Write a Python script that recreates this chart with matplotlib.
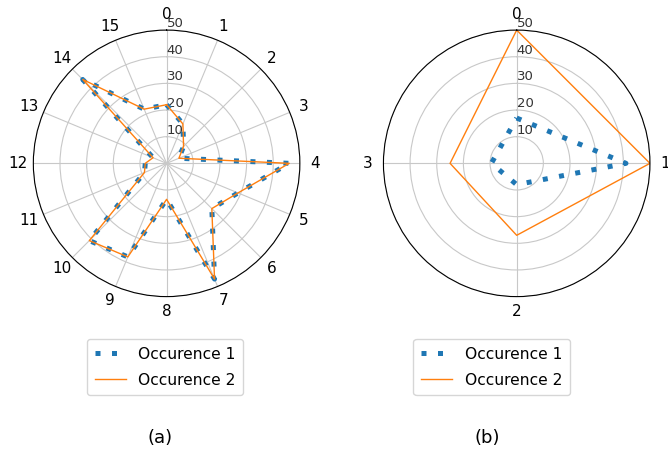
"""Two radar charts of occurrence counts: (a) 16 directions, (b) 4 directions."""

import matplotlib.pyplot as plt
import numpy as np

OUT = "out.png"

# (a) sixteen directions, clockwise from north
LABELS_A = [str(i) for i in range(16)]
OCC1_A = [22, 16, 9, 5, 46, 29, 24, 47, 13.5, 38, 41, 9, 8, 5.5, 44.5, 22]
OCC2_A = [22, 16, 9, 5, 46, 29, 24, 47, 13.5, 38, 41, 9, 8, 5.5, 44.5, 22]

# (b) four directions
LABELS_B = ["0", "1", "2", "3"]
OCC1_B = [17, 41, 8, 9.5]
OCC2_B = [50, 50, 27, 25]

R_TICKS = [10, 20, 30, 40, 50]
SERIES = ["Occurence 1", "Occurence 2"]
TAGS = ["(a)", "(b)"]


def radar(ax, labels, occ1, occ2):
    n = len(labels)
    theta = np.linspace(0, 2 * np.pi, n, endpoint=False)
    # close the loop by repeating the first point
    th = np.append(theta, theta[0])
    ax.plot(th, occ1 + occ1[:1], color="C0", linewidth=3.6,
            linestyle=(0, (1, 2.3)), label=SERIES[0])
    ax.plot(th, occ2 + occ2[:1], color="C1", linewidth=1.0, label=SERIES[1])

    ax.set_theta_zero_location("N")
    ax.set_theta_direction(-1)
    ax.set_xticks(theta)
    ax.set_xticklabels(labels, fontsize=11)
    ax.set_ylim(0, 50)
    ax.set_yticks(R_TICKS)
    ax.set_yticklabels([str(t) for t in R_TICKS], fontsize=9.5, color="#333333")
    ax.set_rlabel_position(0)
    ax.grid(True, color="#c8c8c8", linewidth=0.8)
    ax.tick_params(axis="x", pad=0.5)


def main() -> None:
    fig = plt.figure(figsize=(6.68, 4.55), dpi=100)
    ax_a = fig.add_axes([0.0499, 0.348, 0.399, 0.586], projection="polar")
    ax_b = fig.add_axes([0.574, 0.348, 0.399, 0.586], projection="polar")

    radar(ax_a, LABELS_A, OCC1_A, OCC2_A)
    radar(ax_b, LABELS_B, OCC1_B, OCC2_B)

    for ax, cx, tag in [(ax_a, 0.247, TAGS[0]), (ax_b, 0.736, TAGS[1])]:
        ax.legend(loc="upper center", bbox_to_anchor=(cx, 0.255),
                  bbox_transform=fig.transFigure, fontsize=11.2,
                  labelspacing=0.7, borderpad=0.5, borderaxespad=0)
        fig.text(cx - 0.007, 0.038, tag, ha="center", va="center", fontsize=13)

    fig.savefig(OUT, dpi=100)


if __name__ == "__main__":
    main()
